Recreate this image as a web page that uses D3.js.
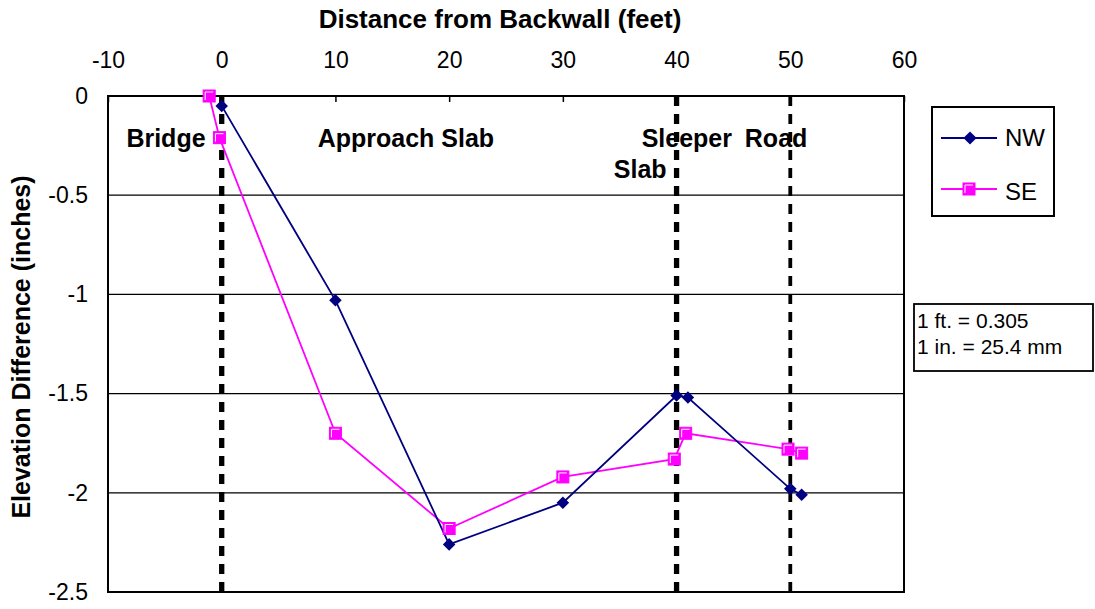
<!DOCTYPE html>
<html>
<head>
<meta charset="utf-8">
<script src="https://cdn.jsdelivr.net/npm/d3@7"></script>
<style>
  body { margin: 0; background: #fff; }
  svg text { font-family: Arial, "Liberation Sans", sans-serif; fill: #000; }
</style>
</head>
<body>
<div id="chart"></div>
<script>
// data
var nwX = [0, 10, 20, 30, 40, 41, 50, 51];
var nwY = [-0.05, -1.03, -2.26, -2.05, -1.51, -1.52, -1.98, -2.01];
var seX = [-1.1, -0.2, 10, 20, 30, 39.8, 40.8, 49.8, 51];
var seY = [0, -0.21, -1.70, -2.18, -1.92, -1.83, -1.70, -1.78, -1.80];
var xTicks = [-10, 0, 10, 20, 30, 40, 50, 60];
var yTicks = [0, -0.5, -1, -1.5, -2, -2.5];
var dividers = [0, 40, 50];
var zoneNames = ['Bridge', 'Approach Slab', 'Sleeper', 'Road', 'Slab'];
var zoneAtX = [-4.9, 16.2, 40.9, 48.75, 36.8];
var zoneAtY = [-0.257, -0.257, -0.257, -0.257, -0.413];

var W = 1095, H = 609;
var margin = { top: 96, left: 108, right: 191, bottom: 17 };
var FONT = 'Arial, "Liberation Sans", sans-serif';

var svg = d3.select('#chart').append('svg')
  .attr('width', W).attr('height', H);

var x = d3.scaleLinear().domain([-10, 60]).range([margin.left, W - margin.right]);
var y = d3.scaleLinear().domain([0, -2.5]).range([margin.top, H - margin.bottom]);

// gridlines
svg.append('g').selectAll('line')
  .data(yTicks.filter(function (d) { return d !== 0 && d !== -2.5; }))
  .enter().append('line')
  .attr('x1', x(-10)).attr('x2', x(60))
  .attr('y1', function (d) { return y(d); })
  .attr('y2', function (d) { return y(d); })
  .attr('stroke', '#000').attr('stroke-width', 1.3);

var fmt = function (d) { return String(d); };

// top axis, ticks pointing into the plot
var xAxis = svg.append('g')
  .attr('transform', 'translate(0,' + y(0) + ')')
  .call(d3.axisTop(x).tickValues(xTicks).tickFormat(fmt).tickSize(-6).tickPadding(28));
xAxis.select('.domain').remove();
xAxis.selectAll('line').attr('stroke', '#000').attr('stroke-width', 1.5);
xAxis.selectAll('text').attr('font-size', 23).attr('font-family', FONT);

var yAxis = svg.append('g')
  .attr('transform', 'translate(' + x(-10) + ',0)')
  .call(d3.axisLeft(y).tickValues(yTicks).tickFormat(fmt).tickSize(0).tickPadding(20));
yAxis.select('.domain').remove();
yAxis.selectAll('text').attr('font-size', 23).attr('font-family', FONT);

// plot frame
svg.append('rect')
  .attr('x', x(-10)).attr('y', y(0))
  .attr('width', x(60) - x(-10)).attr('height', y(-2.5) - y(0))
  .attr('fill', 'none').attr('stroke', '#000').attr('stroke-width', 2);

// dashed dividers
svg.append('g').selectAll('line')
  .data(dividers).enter().append('line')
  .attr('x1', function (d) { return x(d); })
  .attr('x2', function (d) { return x(d); })
  .attr('y1', y(0)).attr('y2', y(-2.5))
  .attr('stroke', '#000')
  .attr('stroke-width', function (d) { return d === 50 ? 3.8 : 5.3; })
  .attr('stroke-dasharray', '10,8');

// zone labels
svg.append('g').selectAll('text')
  .data(zoneNames).enter().append('text')
  .attr('x', function (d, i) { return x(zoneAtX[i]); })
  .attr('y', function (d, i) { return y(zoneAtY[i]); })
  .attr('text-anchor', 'middle')
  .attr('font-size', 25).attr('font-weight', 'bold')
  .text(function (d) { return d; });

var line = d3.line()
  .x(function (d) { return x(d[0]); })
  .y(function (d) { return y(d[1]); });

var nw = nwX.map(function (v, i) { return [v, nwY[i]]; });
var se = seX.map(function (v, i) { return [v, seY[i]]; });

var NAVY = '#000080', MAGENTA = '#FF00FF';

function drawSquare(g, cx, cy, s) {
  var h = s / 2;
  g.append('rect').attr('x', cx - h).attr('y', cy - h).attr('width', s).attr('height', s)
    .attr('fill', MAGENTA).attr('stroke', MAGENTA).attr('stroke-width', 1);
  g.append('path')
    .attr('d', 'M' + (cx - h + 2) + ',' + (cy + h - 2) + 'V' + (cy - h + 2) + 'H' + (cx + h - 2))
    .attr('fill', 'none').attr('stroke', '#fff').attr('stroke-width', 1);
}
var diamond = d3.symbol().type(d3.symbolDiamond2).size(100);

svg.append('path').datum(se).attr('d', line)
  .attr('fill', 'none').attr('stroke', MAGENTA).attr('stroke-width', 1.8);
svg.append('path').datum(nw).attr('d', line)
  .attr('fill', 'none').attr('stroke', NAVY).attr('stroke-width', 1.8);

var seG = svg.append('g');
se.forEach(function (d) { drawSquare(seG, x(d[0]), y(d[1]), 12); });

svg.append('g').selectAll('path')
  .data(nw).enter().append('path')
  .attr('d', diamond)
  .attr('transform', function (d) { return 'translate(' + x(d[0]) + ',' + y(d[1]) + ')'; })
  .attr('fill', NAVY);

// axis titles
svg.append('text')
  .attr('x', 500).attr('y', 28)
  .attr('text-anchor', 'middle')
  .attr('font-size', 26).attr('font-weight', 'bold')
  .text('Distance from Backwall (feet)');

svg.append('text')
  .attr('transform', 'translate(30,347) rotate(-90)')
  .attr('text-anchor', 'middle')
  .attr('font-size', 25).attr('font-weight', 'bold')
  .text('Elevation Difference (inches)');

// legend
var lg = svg.append('g').attr('transform', 'translate(932,107)');
lg.append('rect').attr('width', 122).attr('height', 109)
  .attr('fill', '#fff').attr('stroke', '#000').attr('stroke-width', 2);
lg.append('line').attr('x1', 9).attr('x2', 65).attr('y1', 31).attr('y2', 31)
  .attr('stroke', NAVY).attr('stroke-width', 1.8);
lg.append('path').attr('d', d3.symbol().type(d3.symbolDiamond2).size(110))
  .attr('transform', 'translate(38,31)').attr('fill', NAVY);
lg.append('text').attr('x', 73).attr('y', 39).attr('font-size', 24).text('NW');
lg.append('line').attr('x1', 9).attr('x2', 65).attr('y1', 82).attr('y2', 82)
  .attr('stroke', MAGENTA).attr('stroke-width', 1.8);
drawSquare(lg, 37, 82, 12);
lg.append('text').attr('x', 73).attr('y', 93).attr('font-size', 24).text('SE');

// unit note
var note = svg.append('g').attr('transform', 'translate(914,304)');
note.append('rect').attr('width', 179).attr('height', 67)
  .attr('fill', '#fff').attr('stroke', '#000').attr('stroke-width', 1.8);
note.append('text').attr('x', 3).attr('y', 24).attr('font-size', 21).text('1 ft. = 0.305');
note.append('text').attr('x', 3).attr('y', 50).attr('font-size', 21).text('1 in. = 25.4 mm');
</script>
</body>
</html>
